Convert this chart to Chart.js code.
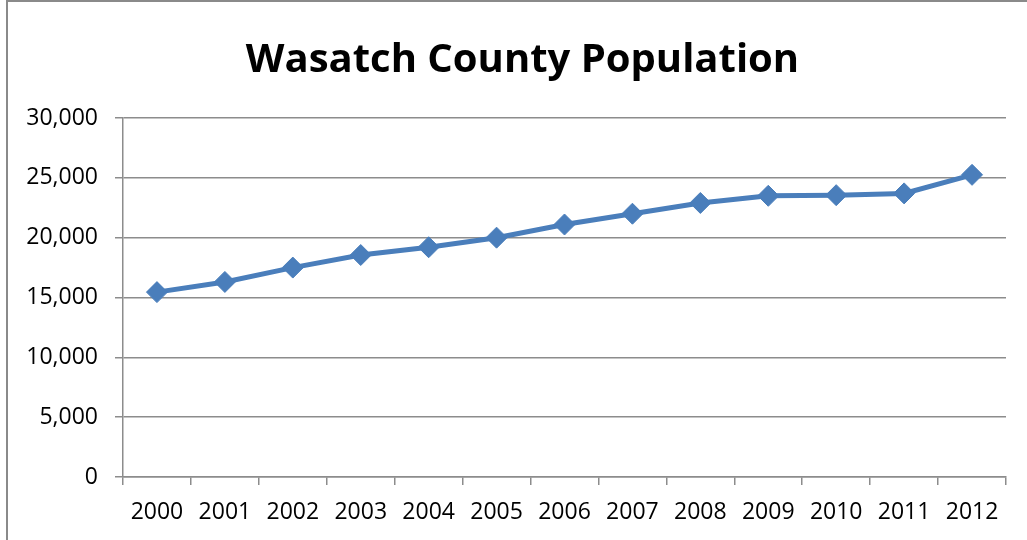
<!DOCTYPE html>
<html>
<head>
<meta charset="utf-8">
<script src="https://cdn.jsdelivr.net/npm/chart.js@4/dist/chart.umd.min.js"></script>
<style>
  html, body { margin: 0; padding: 0; background: #fff; }
  #frame {
    position: absolute; left: 6px; top: 0px;
    width: 1100px; height: 600px;
    border-left: 2px solid #8a8a8a; border-top: 2px solid #8a8a8a;
  }
  #wrap { position: absolute; left: 0; top: 0; width: 1027px; height: 540px; }
</style>
</head>
<body>
<div id="frame"></div>
<div id="wrap"><canvas id="popChart" width="1027" height="540"></canvas></div>
<script>
// Wasatch County population by year
const years = ['2000', '2001', '2002', '2003', '2004', '2005', '2006',
               '2007', '2008', '2009', '2010', '2011', '2012'];
const population = [15450, 16300, 17500, 18550, 19200, 20000, 21100,
                     22000, 22900, 23500, 23550, 23700, 25250];
const yTicks = [0, 5000, 10000, 15000, 20000, 25000, 30000];

const BLUE = '#4a7ebb';
const GRID = '#8c8c8c';

// the original title sits a bit right of the canvas centre
const shiftTitle = {
    id: 'shiftTitle',
    afterLayout(chart) {
        if (chart.titleBlock) chart.titleBlock.left += 39;
    }
};

const ctx = document.getElementById('popChart').getContext('2d');
new Chart(ctx, {
    type: 'line',
    data: {
        labels: years,
        datasets: [{
            label: 'Population',
            data: population,
            borderColor: BLUE,
            backgroundColor: BLUE,
            borderWidth: 5,
            pointStyle: 'rectRot',
            pointRadius: 10.5,
            pointBorderWidth: 1,
            pointBackgroundColor: BLUE,
            pointBorderColor: BLUE,
            tension: 0,
            fill: false
        }]
    },
    options: {
        responsive: false,
        animation: false,
        layout: { padding: { left: 0, right: 21, top: 0, bottom: 0 } },
        plugins: {
            legend: { display: false },
            tooltip: { enabled: false },
            title: {
                display: true,
                text: 'Wasatch County Population',
                color: '#000',
                font: { family: 'Open Sans', size: 40, weight: 'bold', lineHeight: 1.2 },
                padding: { top: 37, bottom: 33 }
            }
        },
        scales: {
            x: {
                offset: true,
                grid: {
                    offset: true,
                    drawOnChartArea: false,
                    color: GRID,
                    lineWidth: 1.5,
                    tickLength: 8
                },
                border: { display: true, color: GRID, width: 1.5 },
                ticks: {
                    color: '#000',
                    padding: 14,
                    maxRotation: 0,
                    font: { family: 'Open Sans', size: 23 }
                },
                afterFit: (scale) => { scale.height = 63; }
            },
            y: {
                min: 0,
                max: 30000,
                afterBuildTicks: (scale) => { scale.ticks = yTicks.map(v => ({ value: v })); },
                grid: { color: GRID, lineWidth: 1.5, tickLength: 8 },
                border: { display: true, color: GRID, width: 1.5 },
                ticks: {
                    color: '#000',
                    padding: 17,
                    font: { family: 'Open Sans', size: 23 },
                    callback: (v) => v.toLocaleString('en-US')
                },
                afterFit: (scale) => { scale.width = 123; }
            }
        }
    },
    plugins: [shiftTitle]
});
</script>
</body>
</html>
